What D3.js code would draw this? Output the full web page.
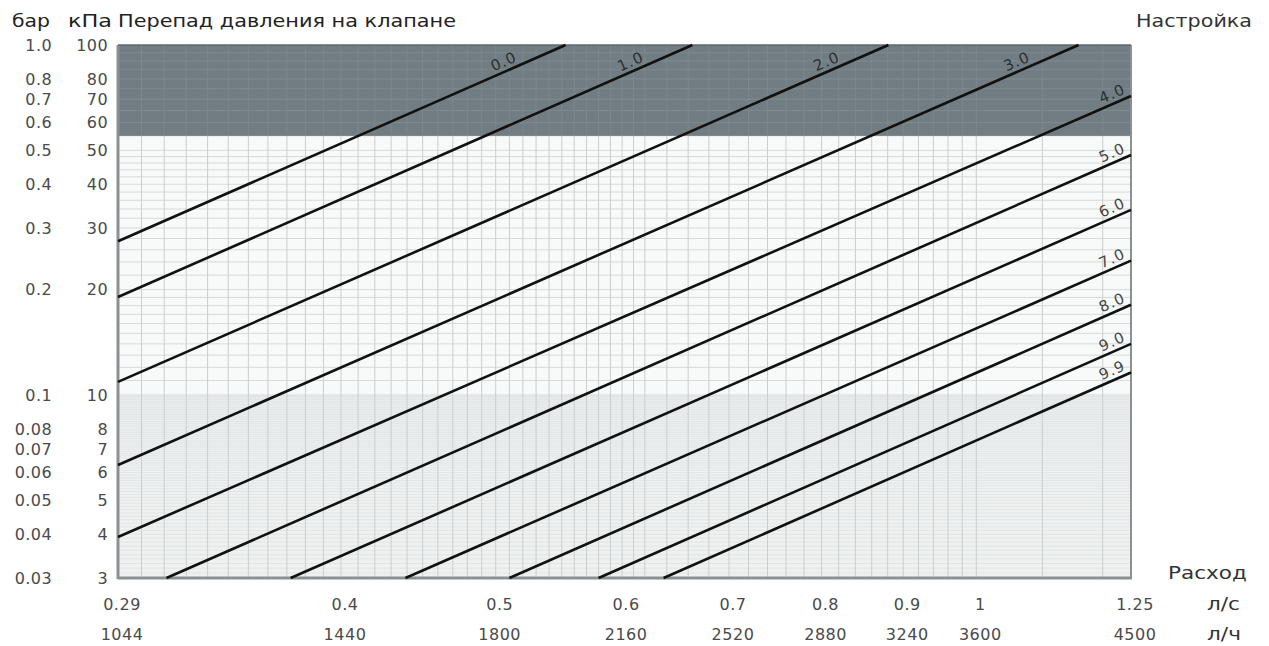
<!DOCTYPE html>
<html>
<head>
<meta charset="utf-8">
<script src="https://cdn.jsdelivr.net/npm/d3@7"></script>
<style>
  html, body { margin: 0; padding: 0; background: #ffffff; }
  svg { display: block; }
  text { font-family: "DejaVu Sans", "Liberation Sans", sans-serif; }
</style>
</head>
<body>
<svg id="chart" width="1269" height="646"></svg>
<script>
// Flow axis ticks: litres per second and the matching litres per hour
const flowTicksLs = [0.29, 0.4, 0.5, 0.6, 0.7, 0.8, 0.9, 1, 1.25];
const flowTickLabelsLs = ["0.29", "0.4", "0.5", "0.6", "0.7", "0.8", "0.9", "1", "1.25"];
const flowTickLabelsLh = ["1044", "1440", "1800", "2160", "2520", "2880", "3240", "3600", "4500"];

// Pressure drop ticks: kPa and the same values in bar
const dpTicksKpa = [100, 80, 70, 60, 50, 40, 30, 20, 10, 8, 7, 6, 5, 4, 3];
const dpTickLabelsBar = ["1.0", "0.8", "0.7", "0.6", "0.5", "0.4", "0.3", "0.2", "0.1",
                         "0.08", "0.07", "0.06", "0.05", "0.04", "0.03"];

// Valve presetting curves: start and end points (flow l/s, pressure drop kPa)
const settings   = ["0.0", "1.0", "2.0", "3.0", "4.0", "5.0", "6.0", "7.0", "8.0", "9.0", "9.9"];
const startFlow  = [0.29, 0.29, 0.29, 0.29, 0.29, 0.311, 0.372, 0.439, 0.510, 0.580, 0.637];
const startDp    = [27.5, 19.05, 10.9, 6.31, 3.93, 3, 3, 3, 3, 3, 3];
const endFlow    = [0.553, 0.664, 0.881, 1.159, 1.25, 1.25, 1.25, 1.25, 1.25, 1.25, 1.25];
const endDp      = [100, 100, 100, 100, 71.5, 48.5, 33.8, 24.2, 18.1, 14.0, 11.6];

// Shaded zones of the diagram (kPa)
const highZoneFrom = 55;
const lowZoneTo = 10;

const svg = d3.select("#chart");
const plot = { left: 118, right: 1131, top: 45, bottom: 578 };

const x = d3.scaleLog().domain([0.29, 1.25]).range([plot.left, plot.right]);
const y = d3.scaleLog().domain([3, 100]).range([plot.bottom, plot.top]);

// Backgrounds
svg.append("rect")
  .attr("x", plot.left).attr("y", y(lowZoneTo))
  .attr("width", plot.right - plot.left).attr("height", plot.bottom - y(lowZoneTo))
  .attr("fill", "#eff1f1");
svg.append("rect")
  .attr("x", plot.left).attr("y", y(highZoneFrom))
  .attr("width", plot.right - plot.left).attr("height", y(lowZoneTo) - y(highZoneFrom))
  .attr("fill", "#f8f9f9");

// Grid
const vGrid = d3.range(0.30, 0.615, 0.01)
  .concat(d3.range(0.62, 0.995, 0.02))
  .concat([1.0, 1.1, 1.2]);
const hGrid = d3.range(3.1, 9.95, 0.1)
  .concat(d3.range(10, 20, 1))
  .concat(d3.range(20, 50, 2))
  .concat(d3.range(50, 100, 5));

const grid = svg.append("g").attr("class", "grid");
grid.selectAll("line.h").data(hGrid).join("line")
  .attr("class", "h")
  .attr("x1", plot.left).attr("x2", plot.right)
  .attr("y1", d => y(d)).attr("y2", d => y(d))
  .attr("stroke", d => d < lowZoneTo ? "#d9dddd" : "#d2d6d7")
  .attr("stroke-width", d => d < lowZoneTo ? 0.6 : 0.9);
grid.selectAll("line.v").data(vGrid).join("line")
  .attr("class", "v")
  .attr("x1", d => x(d)).attr("x2", d => x(d))
  .attr("y1", plot.top).attr("y2", plot.bottom)
  .attr("stroke", "#c9cecf")
  .attr("stroke-width", 1);

// Dark zone above the recommended limit
svg.append("rect")
  .attr("x", plot.left).attr("y", plot.top)
  .attr("width", plot.right - plot.left).attr("height", y(highZoneFrom) - plot.top)
  .attr("fill", "#717d82");
const darkGrid = svg.append("g");
darkGrid.selectAll("line.h").data(hGrid.filter(d => d > highZoneFrom)).join("line")
  .attr("x1", plot.left).attr("x2", plot.right)
  .attr("y1", d => y(d)).attr("y2", d => y(d))
  .attr("stroke", "#7f8b90").attr("stroke-width", 1);
darkGrid.selectAll("line.v").data(vGrid).join("line")
  .attr("x1", d => x(d)).attr("x2", d => x(d))
  .attr("y1", plot.top).attr("y2", y(highZoneFrom))
  .attr("stroke", "#7c888d").attr("stroke-width", 1);

// Frame
const frame = svg.append("g").attr("stroke", "#8b9193").attr("fill", "none");
frame.append("line").attr("x1", plot.left).attr("x2", plot.left)
  .attr("y1", plot.top).attr("y2", plot.bottom + 1).attr("stroke-width", 3);
frame.append("line").attr("x1", plot.left).attr("x2", plot.right + 1)
  .attr("y1", plot.bottom).attr("y2", plot.bottom).attr("stroke-width", 3);
frame.append("line").attr("x1", plot.right).attr("x2", plot.right)
  .attr("y1", plot.top).attr("y2", plot.bottom).attr("stroke-width", 2);
frame.append("line").attr("x1", plot.left).attr("x2", plot.right)
  .attr("y1", plot.top).attr("y2", plot.top).attr("stroke", "#5f6a6e").attr("stroke-width", 1.5);

// Preset curves
const curves = settings.map((s, i) => ({
  name: s,
  pts: [[startFlow[i], startDp[i]], [endFlow[i], endDp[i]]]
}));
const line = d3.line().x(d => x(d[0])).y(d => y(d[1]));
svg.append("g").selectAll("path").data(curves).join("path")
  .attr("d", d => line(d.pts))
  .attr("fill", "none")
  .attr("stroke", "#111")
  .attr("stroke-width", 2.6);

// Curve labels, written along each line near its upper end
const labels = svg.append("g");
curves.forEach(c => {
  const x0 = x(c.pts[0][0]), y0 = y(c.pts[0][1]);
  const x1 = x(c.pts[1][0]), y1 = y(c.pts[1][1]);
  const ang = Math.atan2(y1 - y0, x1 - x0);
  const back = c.pts[1][1] >= 100 ? 58 : 15;
  const t = (x1 - back - x0) / (x1 - x0);
  const px = x0 + t * (x1 - x0), py = y0 + t * (y1 - y0);
  const off = 10;
  const lx = px + off * Math.sin(ang), ly = py - off * Math.cos(ang);
  labels.append("text")
    .attr("transform", `translate(${lx},${ly}) rotate(${ang * 180 / Math.PI})`)
    .attr("text-anchor", "middle")
    .attr("dy", "0.36em")
    .attr("font-size", 15)
    .attr("letter-spacing", 1)
    .attr("fill", c.pts[1][1] >= 100 || c.name === "4.0" ? "#2a2f31" : "#444")
    .text(c.name);
});

// Left axis: bar and kPa columns
const yAxisG = svg.append("g").attr("font-size", 16).attr("fill", "#4a4a4a")
  .attr("letter-spacing", 0.4);
yAxisG.selectAll("text.bar").data(dpTicksKpa).join("text")
  .attr("class", "bar")
  .attr("x", 52).attr("y", d => y(d)).attr("dy", "0.36em")
  .attr("text-anchor", "end")
  .text((d, i) => dpTickLabelsBar[i]);
yAxisG.selectAll("text.kpa").data(dpTicksKpa).join("text")
  .attr("class", "kpa")
  .attr("x", 108).attr("y", d => y(d)).attr("dy", "0.36em")
  .attr("text-anchor", "end")
  .text(d => d);

// Bottom axis: l/s and l/h rows
const xAxisG = svg.append("g").attr("font-size", 16).attr("fill", "#4a4a4a")
  .attr("letter-spacing", 0.5);
xAxisG.selectAll("text.ls").data(flowTicksLs).join("text")
  .attr("class", "ls")
  .attr("x", d => x(d) + 4).attr("y", 610)
  .attr("text-anchor", "middle")
  .text((d, i) => flowTickLabelsLs[i]);
xAxisG.selectAll("text.lh").data(flowTicksLs).join("text")
  .attr("class", "lh")
  .attr("x", d => x(d) + 4).attr("y", 640)
  .attr("text-anchor", "middle")
  .text((d, i) => flowTickLabelsLh[i]);

// Titles and units (the wide face is imitated by stretching the glyphs)
const titles = svg.append("g").attr("font-size", 18).attr("fill", "#222");
const title = (tx, ty, len, str, fill) => titles.append("text")
  .attr("x", tx).attr("y", ty)
  .attr("textLength", len).attr("lengthAdjust", "spacingAndGlyphs")
  .attr("fill", fill || null)
  .text(str);
title(12, 27, 38, "бар");
title(68, 27, 44, "кПа");
title(118, 27, 338, "Перепад давления на клапане");
title(1136, 27, 116, "Настройка", "#333");
title(1168, 579, 79, "Расход", "#333");
title(1207, 610, 33, "л/с", "#333");
title(1207, 640, 34, "л/ч", "#333");
</script>
</body>
</html>
